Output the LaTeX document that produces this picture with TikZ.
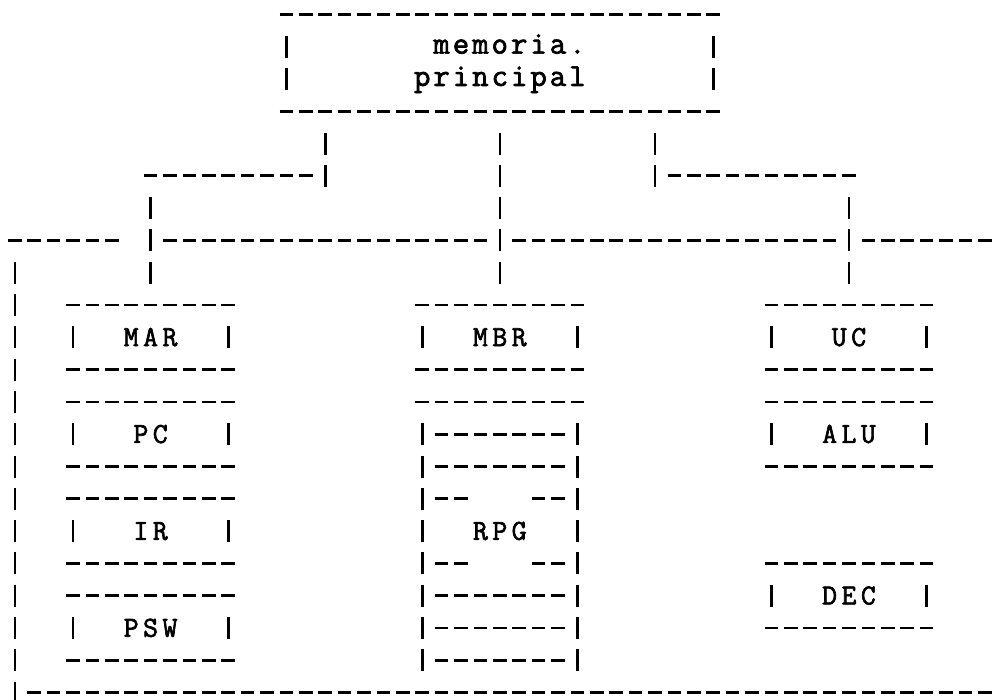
\documentclass[tikz,border=0pt]{standalone}
\usepackage{fontspec}
\newfontfamily\typew{Latin Modern Mono}[FakeBold=2.2]
\newcommand\spc[1]{\spcloop#1\relax}
\def\spcloop#1{\ifx#1\relax\else\makebox[9.7pt]{#1}\expandafter\spcloop\fi}
\tikzset{
  hd/.style={line width=1.4pt, dash pattern=on 6.8pt off 2.9pt},
  vb/.style={line width=1.3pt, dash pattern=on 11pt off 5.15pt},
  caplbl/.style={anchor=base, inner sep=0pt, font=\typew\fontsize{14.5}{14.5}\selectfont},
  lowlbl/.style={anchor=base, inner sep=0pt, font=\typew\fontsize{16}{16}\selectfont},
}
% row, first col, last col
\newcommand\hdash[3]{\draw[hd] ({#2-0.35},#1) -- ({#3+0.35},#1);}
% col, first row, last row
\newcommand\vbar[3]{\draw[vb] (#1,{#2-0.34}) -- (#1,{#3+0.34});}
% one-line register box: top row, first col, last col, name, label
\newcommand\regbox[5]{%
  \hdash{#1}{#2}{#3}
  \vbar{#2}{#1+1}{#1+1}
  \vbar{#3}{#1+1}{#1+1}
  \hdash{#1+2}{#2}{#3}
  \node[caplbl] (#4) at ({(#2+#3)/2},{#1+1+0.27}) {\spc{#5}};}
\begin{document}
\begin{tikzpicture}
\fill[white] (0,0) rectangle (497.5pt,-350pt);
\useasboundingbox (0,0) rectangle (497.5pt,-350pt);
\begin{scope}[shift={(7.4pt,-152.5pt)}, x=9.7pt, y=-16.15pt]
  % main memory
  \hdash{-9}{14}{36}
  \vbar{14}{-8}{-7}
  \vbar{36}{-8}{-7}
  \hdash{-6}{14}{36}
  \node[lowlbl] (mem1) at (25.5,{-8+0.217}) {\spc{memoria.}};
  \node[lowlbl] (mem2) at (25,{-7+0.217}) {\spc{principal}};
  % links from memory to the bus
  \vbar{16}{-5}{-4}
  \vbar{25}{-5}{-1}
  \vbar{33}{-5}{-4}
  \hdash{-4}{7}{15}
  \hdash{-4}{34}{43}
  \vbar{7}{-3}{-1}
  \vbar{43}{-3}{-1}
  % upper bus
  \hdash{-2}{0}{5}
  \hdash{-2}{8}{24}
  \hdash{-2}{26}{42}
  \hdash{-2}{44}{50}
  % processor enclosure
  \vbar{0}{-1}{12}
  \hdash{12}{1}{50}
  % left column
  \regbox{0}{3}{11}{mar}{MAR}
  \regbox{3}{3}{11}{pc}{PC}
  \regbox{6}{3}{11}{ir}{IR}
  \regbox{9}{3}{11}{psw}{PSW}
  % middle column
  \regbox{0}{21}{29}{mbr}{MBR}
  \hdash{3}{21}{29}
  \vbar{21}{4}{11}
  \vbar{29}{4}{11}
  \hdash{4}{22}{28}
  \hdash{5}{22}{28}
  \hdash{6}{22}{23}
  \hdash{6}{27}{28}
  \node[caplbl] (rpg) at (25,{7+0.27}) {\spc{RPG}};
  \hdash{8}{22}{23}
  \hdash{8}{27}{28}
  \hdash{9}{22}{28}
  \hdash{10}{22}{28}
  \hdash{11}{22}{28}
  % right column
  \regbox{0}{39}{47}{uc}{UC}
  \regbox{3}{39}{47}{alu}{ALU}
  \regbox{8}{39}{47}{dec}{DEC}
\end{scope}
\end{tikzpicture}
\end{document}
